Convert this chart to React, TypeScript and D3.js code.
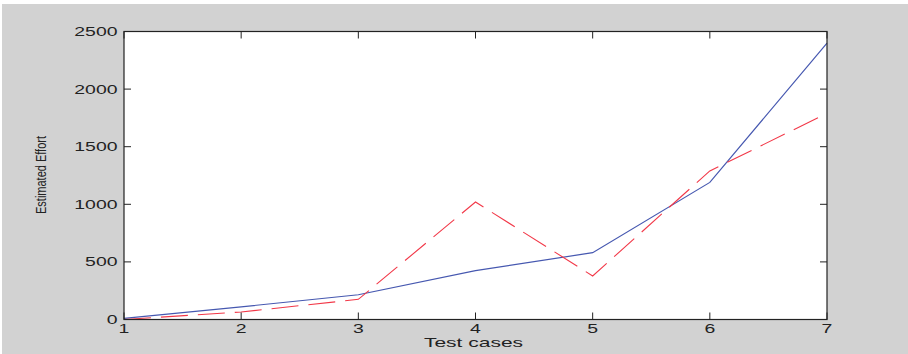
import * as d3 from "d3";

const testCases = [1, 2, 3, 4, 5, 6, 7];
const actualEffort = [10, 110, 215, 425, 580, 1190, 2400];
const estimatedEffort = [0, 65, 175, 1020, 378, 1290, 1790];
const yTicks = [0, 500, 1000, 1500, 2000, 2500];

const width = 908;
const height = 354;
const left = 124;
const right = 827;
const top = 31.5;
const bottom = 319.5;
const tickLen = 7;
const stretch = 1.62;

const App = () => {
  const x = d3.scaleLinear().domain([1, 7]).range([left, right]);
  const y = d3.scaleLinear().domain([0, 2500]).range([bottom, top]);

  const line = d3
    .line<number>()
    .x((d, i) => x(testCases[i]))
    .y((d) => y(d));

  const font = "'Liberation Sans', Arial, sans-serif";

  return (
    <svg
      width={width}
      height={height}
      style={{ position: "absolute", left: 0, top: 0 }}
    >
      <rect x={0} y={0} width={width} height={height} fill="#ffffff" />
      <rect x={2} y={4} width={width - 2} height={height - 4} fill="#d2d2d2" />
      <rect x={left} y={top} width={right - left} height={bottom - top} fill="#ffffff" />

      {/* series */}
      <path d={line(actualEffort) || ""} fill="none" stroke="#4658b0" strokeWidth={1.2} />
      <path
        d={line(estimatedEffort) || ""}
        fill="none"
        stroke="#f23848"
        strokeWidth={1.1}
        strokeDasharray="27 10"
      />

      {/* box */}
      <rect
        x={left}
        y={top}
        width={right - left}
        height={bottom - top}
        fill="none"
        stroke="#222"
        strokeWidth={1.2}
      />

      {/* x ticks */}
      {testCases.map((t) => (
        <g key={"x" + t}>
          <line x1={x(t)} x2={x(t)} y1={bottom} y2={bottom - tickLen} stroke="#222" />
          <line x1={x(t)} x2={x(t)} y1={top} y2={top + tickLen} stroke="#222" />
          <text
            transform={`translate(${x(t)},${333}) scale(${stretch},1)`}
            textAnchor="middle"
            fontFamily={font}
            fontSize={12}
            fill="#222"
          >
            {t}
          </text>
        </g>
      ))}

      {/* y ticks */}
      {yTicks.map((t) => (
        <g key={"y" + t}>
          <line x1={left} x2={left + tickLen} y1={y(t)} y2={y(t)} stroke="#222" />
          <line x1={right} x2={right - tickLen} y1={y(t)} y2={y(t)} stroke="#222" />
          <text
            transform={`translate(${117.5},${y(t) + 4.5}) scale(${stretch},1)`}
            textAnchor="end"
            fontFamily={font}
            fontSize={12}
            fill="#222"
          >
            {t}
          </text>
        </g>
      ))}

      <text
        transform={`translate(${(left + right) / 2 - 2},${347}) scale(1.75,1)`}
        textAnchor="middle"
        fontFamily={font}
        fontSize={12}
        fill="#222"
      >
        Test cases
      </text>
      <text
        transform={`translate(46,175) rotate(-90) scale(1,1.4)`}
        textAnchor="middle"
        fontFamily={font}
        fontSize={11}
        fill="#222"
      >
        Estimated Effort
      </text>
    </svg>
  );
};

export default App;
